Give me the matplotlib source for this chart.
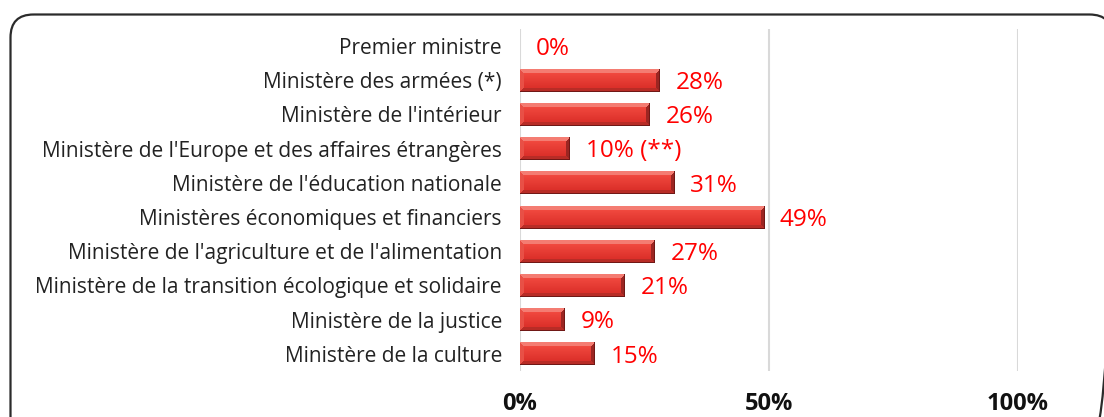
import numpy as np
import matplotlib
matplotlib.use("Agg")
import matplotlib.pyplot as plt
from matplotlib.patches import FancyBboxPatch

plt.rcParams['font.family'] = ['Open Sans', 'DejaVu Sans']

categories = [
    "Premier ministre",
    "Ministère des armées (*)",
    "Ministère de l'intérieur",
    "Ministère de l'Europe et des affaires étrangères",
    "Ministère de l'éducation nationale",
    "Ministères économiques et financiers",
    "Ministère de l'agriculture et de l'alimentation",
    "Ministère de la transition écologique et solidaire",
    "Ministère de la justice",
    "Ministère de la culture",
]
values = [0, 28, 26, 10, 31, 49, 27, 21, 9, 15]
value_labels = ["0%", "28%", "26%", "10% (**)", "31%", "49%", "27%", "21%", "9%", "15%"]
xticks = [0, 50, 100]
xtick_labels = ["0%", "50%", "100%"]

W, H = 1104, 417
fig = plt.figure(figsize=(W / 100, H / 100), dpi=100)

# background frame
bg = fig.add_axes([0, 0, 1, 1])
bg.set_xlim(0, W)
bg.set_ylim(H, 0)
bg.axis('off')
bg.add_patch(FancyBboxPatch((10.5, 14.5), 1102, 430,
                            boxstyle="round,pad=0,rounding_size=23",
                            fill=False, edgecolor='#2b2b2b', linewidth=1.6))

ax_left, ax_right = 520 / W, 1018 / W
ax_top, ax_bot = 1 - 29 / H, 1 - 371 / H
ax = fig.add_axes([ax_left, ax_bot, ax_right - ax_left, ax_top - ax_bot])
ax.set_facecolor('none')

n = len(categories)
ypos = np.arange(n)
bh = 0.67
px_x = (ax_right - ax_left) * W / 100.0
px_y = (ax_top - ax_bot) * H / n

def bevel_img(v):
    wpx = max(int(round(v * px_x)), 2)
    hpx = max(int(round(bh * px_y)), 2)
    img = np.zeros((hpx, wpx, 3))
    b = 4
    c_top = np.array([0xf4, 0x7c, 0x72]) / 255
    c_left = np.array([0xe8, 0x50, 0x46]) / 255
    c_bot = np.array([0xb8, 0x2c, 0x26]) / 255
    c_right = np.array([0x9c, 0x26, 0x22]) / 255
    c_mid_t = np.array([0xf0, 0x48, 0x3e]) / 255
    c_mid_b = np.array([0xdc, 0x30, 0x2a]) / 255
    c_out = np.array([0x70, 0x18, 0x16]) / 255
    for i in range(hpx):
        for j in range(wpx):
            dt, db, dl, dr = i, hpx - 1 - i, j, wpx - 1 - j
            m = min(dt, db, dl, dr)
            if m >= b:
                t = (i - b) / max(hpx - 2 * b - 1, 1)
                col = c_mid_t * (1 - t) + c_mid_b * t
            elif m == dt:
                col = c_top
            elif m == db:
                col = c_bot
            elif m == dl:
                col = c_left
            else:
                col = c_right
            if db == 0 or dr == 0:
                col = c_out
            img[i, j] = col
    return img

for y, v, lab in zip(ypos, values, value_labels):
    if v > 0:
        ax.imshow(bevel_img(v), extent=(0, v, y + bh / 2, y - bh / 2),
                  aspect='auto', interpolation='nearest', zorder=3)
    ax.text(v + 3.2, y + 0.08, lab, color='#ff0000', fontsize=17.5,
            va='center', ha='left', zorder=4)

ax.set_xlim(0, 100)
ax.set_ylim(n - 0.5, -0.5)
ax.set_yticks(ypos)
ax.set_yticklabels(categories, fontsize=15, color='#222222')
ax.set_xticks(xticks)
ax.set_xticklabels(xtick_labels, fontsize=17, fontweight='bold', color='#111111')
ax.tick_params(axis='y', length=0, pad=13)
ax.tick_params(axis='x', length=0, pad=15)
ax.grid(axis='x', color='#d9d9d9', linewidth=1.5, zorder=0)
ax.set_axisbelow(True)
for s in ax.spines.values():
    s.set_visible(False)

fig.savefig('out.png', dpi=100)
